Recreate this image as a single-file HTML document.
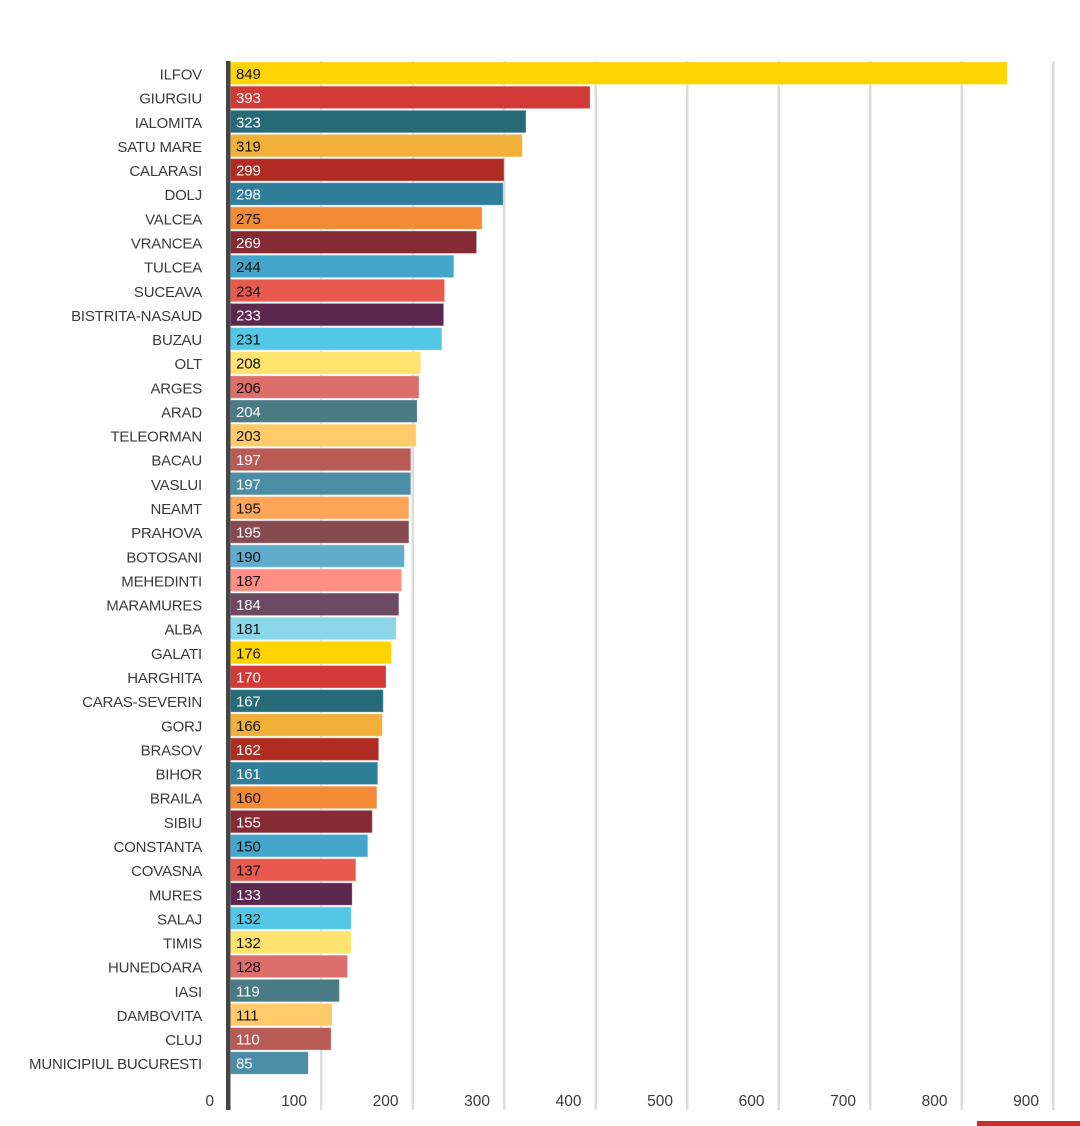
<!DOCTYPE html>
<html><head><meta charset="utf-8"><style>
html,body{margin:0;padding:0;background:#fff;}
svg{display:block;}
.c{font-family:"Liberation Sans",Arial,sans-serif;font-size:15px;fill:#3a3a3a;letter-spacing:-0.2px;}
.v{font-family:"Liberation Sans",Arial,sans-serif;font-size:15px;letter-spacing:-0.1px;}
.w{fill:#fff;} .k{fill:#111;}
.t{font-family:"Liberation Sans",Arial,sans-serif;font-size:15.5px;fill:#3a3a3a;}
</style></head><body>
<svg width="1080" height="1126" viewBox="0 0 1080 1126" xmlns="http://www.w3.org/2000/svg">
<rect width="1080" height="1126" fill="#fff"/>
<g fill="#dcdcdc">
<rect x="320" y="61" width="2.5" height="1049"/>
<rect x="411.5" y="61" width="2.5" height="1049"/>
<rect x="503" y="61" width="2.5" height="1049"/>
<rect x="594.5" y="61" width="2.5" height="1049"/>
<rect x="686" y="61" width="2.5" height="1049"/>
<rect x="777.5" y="61" width="2.5" height="1049"/>
<rect x="869" y="61" width="2.5" height="1049"/>
<rect x="960.5" y="61" width="2.5" height="1049"/>
<rect x="1052" y="61" width="2.5" height="1049"/>
</g>
<g stroke="rgba(255,255,255,0.35)" stroke-width="1">
<rect x="230.5" y="62" width="776.8" height="22.5" fill="#FFD400"/>
<rect x="230.5" y="86.14" width="359.6" height="22.5" fill="#D13A36"/>
<rect x="230.5" y="110.28" width="295.5" height="22.5" fill="#276A77"/>
<rect x="230.5" y="134.42" width="291.9" height="22.5" fill="#F0B03A"/>
<rect x="230.5" y="158.56" width="273.6" height="22.5" fill="#B02C22"/>
<rect x="230.5" y="182.7" width="272.7" height="22.5" fill="#2F7F9B"/>
<rect x="230.5" y="206.84" width="251.6" height="22.5" fill="#F38B36"/>
<rect x="230.5" y="230.98" width="246.1" height="22.5" fill="#862B33"/>
<rect x="230.5" y="255.12" width="223.3" height="22.5" fill="#43A6CA"/>
<rect x="230.5" y="279.26" width="214.1" height="22.5" fill="#E85A4E"/>
<rect x="230.5" y="303.4" width="213.2" height="22.5" fill="#5D284F"/>
<rect x="230.5" y="327.54" width="211.4" height="22.5" fill="#53C8E6"/>
<rect x="230.5" y="351.68" width="190.3" height="22.5" fill="#FFE36F"/>
<rect x="230.5" y="375.82" width="188.5" height="22.5" fill="#DC6F6B"/>
<rect x="230.5" y="399.96" width="186.7" height="22.5" fill="#4A7B84"/>
<rect x="230.5" y="424.1" width="185.7" height="22.5" fill="#FFCA6A"/>
<rect x="230.5" y="448.24" width="180.3" height="22.5" fill="#B95B55"/>
<rect x="230.5" y="472.38" width="180.3" height="22.5" fill="#4B8DA5"/>
<rect x="230.5" y="496.52" width="178.4" height="22.5" fill="#FFA55A"/>
<rect x="230.5" y="520.66" width="178.4" height="22.5" fill="#864A50"/>
<rect x="230.5" y="544.8" width="173.9" height="22.5" fill="#5FADCB"/>
<rect x="230.5" y="568.94" width="171.1" height="22.5" fill="#FF8E84"/>
<rect x="230.5" y="593.08" width="168.4" height="22.5" fill="#6D4A64"/>
<rect x="230.5" y="617.22" width="165.6" height="22.5" fill="#8CD6EA"/>
<rect x="230.5" y="641.36" width="161.0" height="22.5" fill="#FFD400"/>
<rect x="230.5" y="665.5" width="155.6" height="22.5" fill="#D13A36"/>
<rect x="230.5" y="689.64" width="152.8" height="22.5" fill="#276A77"/>
<rect x="230.5" y="713.78" width="151.9" height="22.5" fill="#F0B03A"/>
<rect x="230.5" y="737.92" width="148.2" height="22.5" fill="#B02C22"/>
<rect x="230.5" y="762.06" width="147.3" height="22.5" fill="#2F7F9B"/>
<rect x="230.5" y="786.2" width="146.4" height="22.5" fill="#F38B36"/>
<rect x="230.5" y="810.34" width="141.8" height="22.5" fill="#862B33"/>
<rect x="230.5" y="834.48" width="137.3" height="22.5" fill="#43A6CA"/>
<rect x="230.5" y="858.62" width="125.4" height="22.5" fill="#E85A4E"/>
<rect x="230.5" y="882.76" width="121.7" height="22.5" fill="#5D284F"/>
<rect x="230.5" y="906.9" width="120.8" height="22.5" fill="#53C8E6"/>
<rect x="230.5" y="931.04" width="120.8" height="22.5" fill="#FFE36F"/>
<rect x="230.5" y="955.18" width="117.1" height="22.5" fill="#DC6F6B"/>
<rect x="230.5" y="979.32" width="108.9" height="22.5" fill="#4A7B84"/>
<rect x="230.5" y="1003.46" width="101.6" height="22.5" fill="#FFCA6A"/>
<rect x="230.5" y="1027.6" width="100.7" height="22.5" fill="#B95B55"/>
<rect x="230.5" y="1051.74" width="77.8" height="22.5" fill="#4B8DA5"/>
</g>
<rect x="226" y="61" width="4.5" height="1049" fill="#454545"/>
<g class="c" text-anchor="end">
<text x="202" y="79.5">ILFOV</text>
<text x="202" y="103.6">GIURGIU</text>
<text x="202" y="127.8">IALOMITA</text>
<text x="202" y="151.9">SATU MARE</text>
<text x="202" y="176.1">CALARASI</text>
<text x="202" y="200.2">DOLJ</text>
<text x="202" y="224.3">VALCEA</text>
<text x="202" y="248.5">VRANCEA</text>
<text x="202" y="272.6">TULCEA</text>
<text x="202" y="296.8">SUCEAVA</text>
<text x="202" y="320.9">BISTRITA-NASAUD</text>
<text x="202" y="345.0">BUZAU</text>
<text x="202" y="369.2">OLT</text>
<text x="202" y="393.3">ARGES</text>
<text x="202" y="417.5">ARAD</text>
<text x="202" y="441.6">TELEORMAN</text>
<text x="202" y="465.7">BACAU</text>
<text x="202" y="489.9">VASLUI</text>
<text x="202" y="514.0">NEAMT</text>
<text x="202" y="538.2">PRAHOVA</text>
<text x="202" y="562.3">BOTOSANI</text>
<text x="202" y="586.4">MEHEDINTI</text>
<text x="202" y="610.6">MARAMURES</text>
<text x="202" y="634.7">ALBA</text>
<text x="202" y="658.9">GALATI</text>
<text x="202" y="683.0">HARGHITA</text>
<text x="202" y="707.1">CARAS-SEVERIN</text>
<text x="202" y="731.3">GORJ</text>
<text x="202" y="755.4">BRASOV</text>
<text x="202" y="779.6">BIHOR</text>
<text x="202" y="803.7">BRAILA</text>
<text x="202" y="827.8">SIBIU</text>
<text x="202" y="852.0">CONSTANTA</text>
<text x="202" y="876.1">COVASNA</text>
<text x="202" y="900.3">MURES</text>
<text x="202" y="924.4">SALAJ</text>
<text x="202" y="948.5">TIMIS</text>
<text x="202" y="972.7">HUNEDOARA</text>
<text x="202" y="996.8">IASI</text>
<text x="202" y="1021.0">DAMBOVITA</text>
<text x="202" y="1045.1">CLUJ</text>
<text x="202" y="1069.2">MUNICIPIUL BUCURESTI</text>
</g>
<g class="v">
<text class="k" x="236" y="79">849</text>
<text class="w" x="236" y="103.1">393</text>
<text class="w" x="236" y="127.3">323</text>
<text class="k" x="236" y="151.4">319</text>
<text class="w" x="236" y="175.6">299</text>
<text class="w" x="236" y="199.7">298</text>
<text class="k" x="236" y="223.8">275</text>
<text class="w" x="236" y="248.0">269</text>
<text class="k" x="236" y="272.1">244</text>
<text class="k" x="236" y="296.3">234</text>
<text class="w" x="236" y="320.4">233</text>
<text class="k" x="236" y="344.5">231</text>
<text class="k" x="236" y="368.7">208</text>
<text class="k" x="236" y="392.8">206</text>
<text class="w" x="236" y="417.0">204</text>
<text class="k" x="236" y="441.1">203</text>
<text class="w" x="236" y="465.2">197</text>
<text class="w" x="236" y="489.4">197</text>
<text class="k" x="236" y="513.5">195</text>
<text class="w" x="236" y="537.7">195</text>
<text class="k" x="236" y="561.8">190</text>
<text class="k" x="236" y="585.9">187</text>
<text class="w" x="236" y="610.1">184</text>
<text class="k" x="236" y="634.2">181</text>
<text class="k" x="236" y="658.4">176</text>
<text class="w" x="236" y="682.5">170</text>
<text class="w" x="236" y="706.6">167</text>
<text class="k" x="236" y="730.8">166</text>
<text class="w" x="236" y="754.9">162</text>
<text class="w" x="236" y="779.1">161</text>
<text class="k" x="236" y="803.2">160</text>
<text class="w" x="236" y="827.3">155</text>
<text class="k" x="236" y="851.5">150</text>
<text class="k" x="236" y="875.6">137</text>
<text class="w" x="236" y="899.8">133</text>
<text class="k" x="236" y="923.9">132</text>
<text class="k" x="236" y="948.0">132</text>
<text class="k" x="236" y="972.2">128</text>
<text class="w" x="236" y="996.3">119</text>
<text class="k" x="236" y="1020.5">111</text>
<text class="w" x="236" y="1044.6">110</text>
<text class="w" x="236" y="1068.7">85</text>
</g>
<g class="t" text-anchor="end">
<text x="214" y="1106">0</text>
<text x="307" y="1106">100</text>
<text x="398.5" y="1106">200</text>
<text x="490" y="1106">300</text>
<text x="581.5" y="1106">400</text>
<text x="673" y="1106">500</text>
<text x="764.5" y="1106">600</text>
<text x="856" y="1106">700</text>
<text x="947.5" y="1106">800</text>
<text x="1039" y="1106">900</text>
</g>
<rect x="977" y="1121" width="103" height="5" fill="#C9302C"/>
</svg>
</body></html>
